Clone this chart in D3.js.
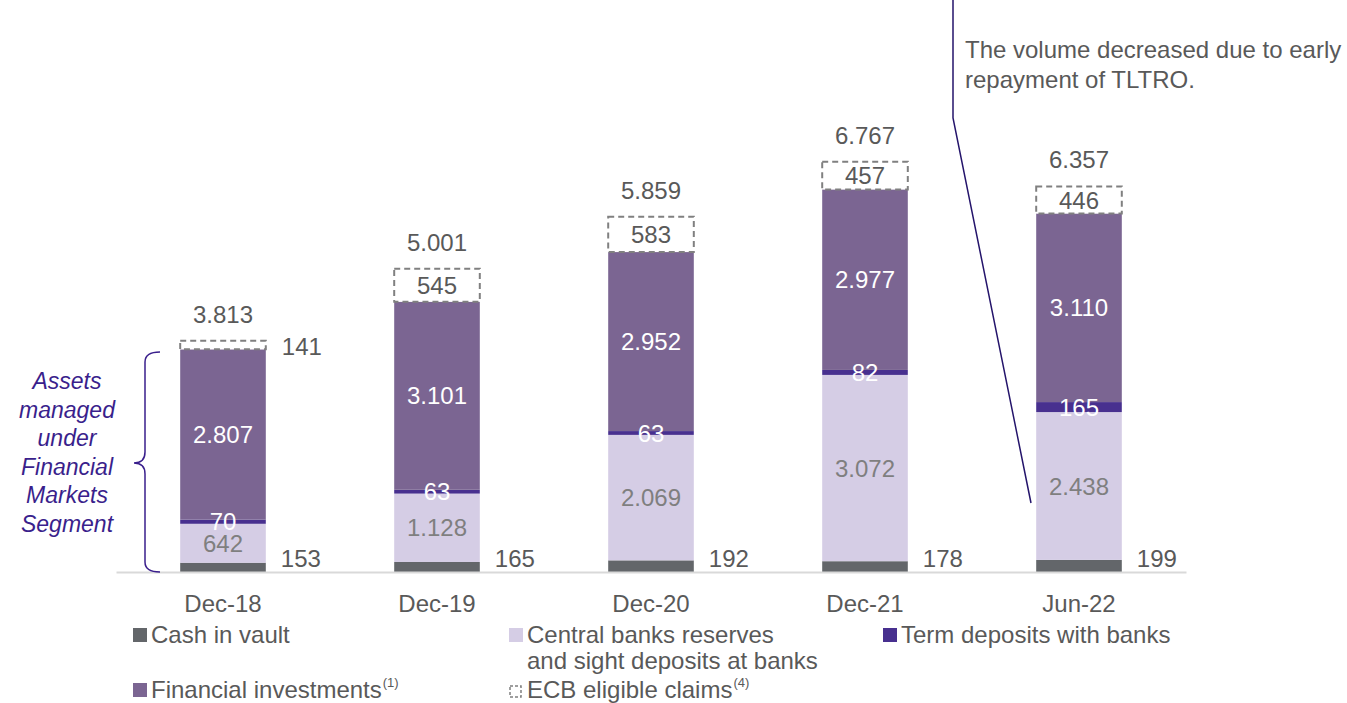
<!DOCTYPE html>
<html>
<head>
<meta charset="utf-8">
<script src="https://cdn.jsdelivr.net/npm/d3@7"></script>
<style>
	body { margin: 0; background: #fff; }
	svg text { font-family: "Liberation Sans", Arial, sans-serif; }
</style>
</head>
<body>
<div id="chart"></div>
<script>
	// data
	var categories = ["Dec-18", "Dec-19", "Dec-20", "Dec-21", "Jun-22"];
	var cashInVault = [153, 165, 192, 178, 199];
	var centralBanks = [642, 1128, 2069, 3072, 2438];
	var termDeposits = [70, 63, 63, 82, 165];
	var financialInvestments = [2807, 3101, 2952, 2977, 3110];
	var ecbClaims = [141, 545, 583, 457, 446];
	var totals = [3813, 5001, 5859, 6767, 6357];

	var seriesKeys = ["cash", "central", "term", "fin", "ecb"];
	var seriesNames = ["Cash in vault", "Central banks reserves", "Term deposits with banks", "Financial investments", "ECB eligible claims"];

	var colors = {
		cash: "#63666a",
		central: "#d5cde5",
		term: "#48308f",
		fin: "#7b6592",
		ecb: "#ffffff"
	};
	var textGrey = "#595959";
	var fontSize = "24px";

	var width = 1347, height = 703;

	var rows = categories.map(function(c, i) {
		return {
			cat: c,
			cash: cashInVault[i],
			central: centralBanks[i],
			term: termDeposits[i],
			fin: financialInvestments[i],
			ecb: ecbClaims[i],
			total: totals[i]
		};
	});

	var fmt = d3.formatLocale({ decimal: ",", thousands: ".", grouping: [3], currency: ["", ""] }).format(",d");

	var svg = d3.select("#chart").append("svg")
		.attr("width", width)
		.attr("height", height);

	var x = d3.scaleBand()
		.domain(categories)
		.range([116, 1186])
		.paddingInner(0.6)
		.paddingOuter(0.3);

	var y = d3.scaleLinear()
		.domain([0, 7000])
		.range([572, 147.5]);

	var stacked = d3.stack().keys(seriesKeys)(rows);

	// bars
	var layers = svg.selectAll("g.layer")
		.data(stacked)
		.enter().append("g")
		.attr("class", "layer");

	layers.selectAll("rect")
		.data(function(s) { return s.map(function(d) { d.key = s.key; return d; }); })
		.enter().append("rect")
		.attr("x", function(d) { return x(d.data.cat); })
		.attr("width", x.bandwidth())
		.attr("y", function(d) { return y(d[1]); })
		.attr("height", function(d) { return y(d[0]) - y(d[1]); })
		.attr("fill", function(d) { return colors[d.key]; })
		.attr("stroke", function(d) { return d.key == "ecb" ? "#808080" : "none"; })
		.attr("stroke-width", 2)
		.attr("stroke-dasharray", function(d) { return d.key == "ecb" ? "6,4" : null; });

	// axis (its domain line is the baseline)
	var xAxis = d3.axisBottom(x).tickSize(0).tickSizeOuter(0);
	var axisG = svg.append("g")
		.attr("transform", "translate(0," + y(0) + ")")
		.call(xAxis);
	axisG.select(".domain").attr("stroke", "#d9d9d9").attr("stroke-width", 2);
	axisG.selectAll(".tick text")
		.attr("dy", 0)
		.attr("y", 40)
		.attr("fill", textGrey)
		.style("font-size", fontSize)
		.style("font-family", "Liberation Sans, Arial, sans-serif");

	var labels = svg.append("g").attr("class", "labels").style("font-size", fontSize);

	// value labels per segment
	stacked.forEach(function(s) {
		s.forEach(function(d) {
			var cx = x(d.data.cat) + x.bandwidth() / 2,
				top = y(d[1]), bot = y(d[0]),
				val = d[1] - d[0],
				t = labels.append("text").text(fmt(val));

			if (s.key == "cash") {
				t.attr("x", x(d.data.cat) + x.bandwidth() + 15)
					.attr("y", bot - 5)
					.attr("fill", textGrey);
			} else if (s.key == "ecb" && bot - top < 20) {
				t.attr("x", x(d.data.cat) + x.bandwidth() + 16)
					.attr("y", (top + bot) / 2 + 10)
					.attr("fill", textGrey);
			} else {
				t.attr("x", cx)
					.attr("y", (top + bot) / 2)
					.attr("dy", "0.36em")
					.attr("text-anchor", "middle")
					.attr("fill", s.key == "central" ? "#7f7f7f" : (s.key == "ecb" ? textGrey : "#ffffff"));
			}
		});
	});

	// totals
	labels.selectAll("text.total")
		.data(rows)
		.enter().append("text")
		.attr("class", "total")
		.attr("x", function(d) { return x(d.cat) + x.bandwidth() / 2; })
		.attr("y", function(d) { return y(d.total) - 18; })
		.attr("text-anchor", "middle")
		.attr("fill", textGrey)
		.text(function(d) { return fmt(d.total); });

	// left brace + italic note
	var purple = "#3a1f8c";
	svg.append("path")
		.attr("d", "M160,352 Q145,352 145,362 L145,452 Q145,463 134,463 Q145,463 145,474 L145,562 Q145,572 160,572")
		.attr("fill", "none")
		.attr("stroke", purple)
		.attr("stroke-width", 1.5);

	var noteLines = ["Assets", "managed", "under", "Financial", "Markets", "Segment"];
	svg.append("g").selectAll("text")
		.data(noteLines)
		.enter().append("text")
		.attr("x", 67)
		.attr("y", function(d, i) { return 389 + i * 28.6; })
		.attr("text-anchor", "middle")
		.attr("fill", purple)
		.style("font-size", "23px")
		.style("font-style", "italic")
		.text(function(d) { return d; });

	// callout
	svg.append("path")
		.attr("d", "M953,0 L953,118 L1031,503")
		.attr("fill", "none")
		.attr("stroke", "#24146b")
		.attr("stroke-width", 1.5);

	var callout = ["The volume decreased due to early", "repayment of TLTRO."];
	svg.append("g").selectAll("text")
		.data(callout)
		.enter().append("text")
		.attr("x", 965)
		.attr("y", function(d, i) { return 58 + i * 30; })
		.attr("fill", textGrey)
		.style("font-size", fontSize)
		.text(function(d) { return d; });

	// legend
	var legendItems = [
		{ key: "cash", lines: [seriesNames[0]], sx: 133, row: 0 },
		{ key: "central", lines: [seriesNames[1], "and sight deposits at banks"], sx: 509, row: 0 },
		{ key: "term", lines: [seriesNames[2]], sx: 883, row: 0 },
		{ key: "fin", lines: [seriesNames[3]], sx: 133, row: 1, sup: "(1)" },
		{ key: "ecb", lines: [seriesNames[4]], sx: 509, row: 1, sup: "(4)" }
	];

	var legend = svg.append("g").attr("class", "legend");
	legendItems.forEach(function(it) {
		var by = 643 + it.row * 55;
		var g = legend.append("g");
		if (it.key == "ecb") {
			g.append("rect")
				.attr("x", it.sx + 1).attr("y", by - 12)
				.attr("width", 11).attr("height", 11)
				.attr("fill", "#fff")
				.attr("stroke", "#808080")
				.attr("stroke-width", 1.5)
				.attr("stroke-dasharray", "3,2");
		} else {
			g.append("rect")
				.attr("x", it.sx).attr("y", by - 15)
				.attr("width", 14).attr("height", 14)
				.attr("fill", colors[it.key]);
		}
		var txt = g.append("text")
			.attr("x", it.sx + 18)
			.attr("y", by)
			.attr("fill", textGrey)
			.style("font-size", fontSize);
		it.lines.forEach(function(l, i) {
			txt.append("tspan")
				.attr("x", it.sx + 18)
				.attr("dy", i == 0 ? 0 : 26)
				.text(l);
		});
		if (it.sup) {
			var w = txt.node().getComputedTextLength();
			g.append("text")
				.attr("x", it.sx + 18 + w + 1)
				.attr("y", by - 11)
				.attr("fill", textGrey)
				.style("font-size", "13px")
				.text(it.sup);
		}
	});
</script>
</body>
</html>
